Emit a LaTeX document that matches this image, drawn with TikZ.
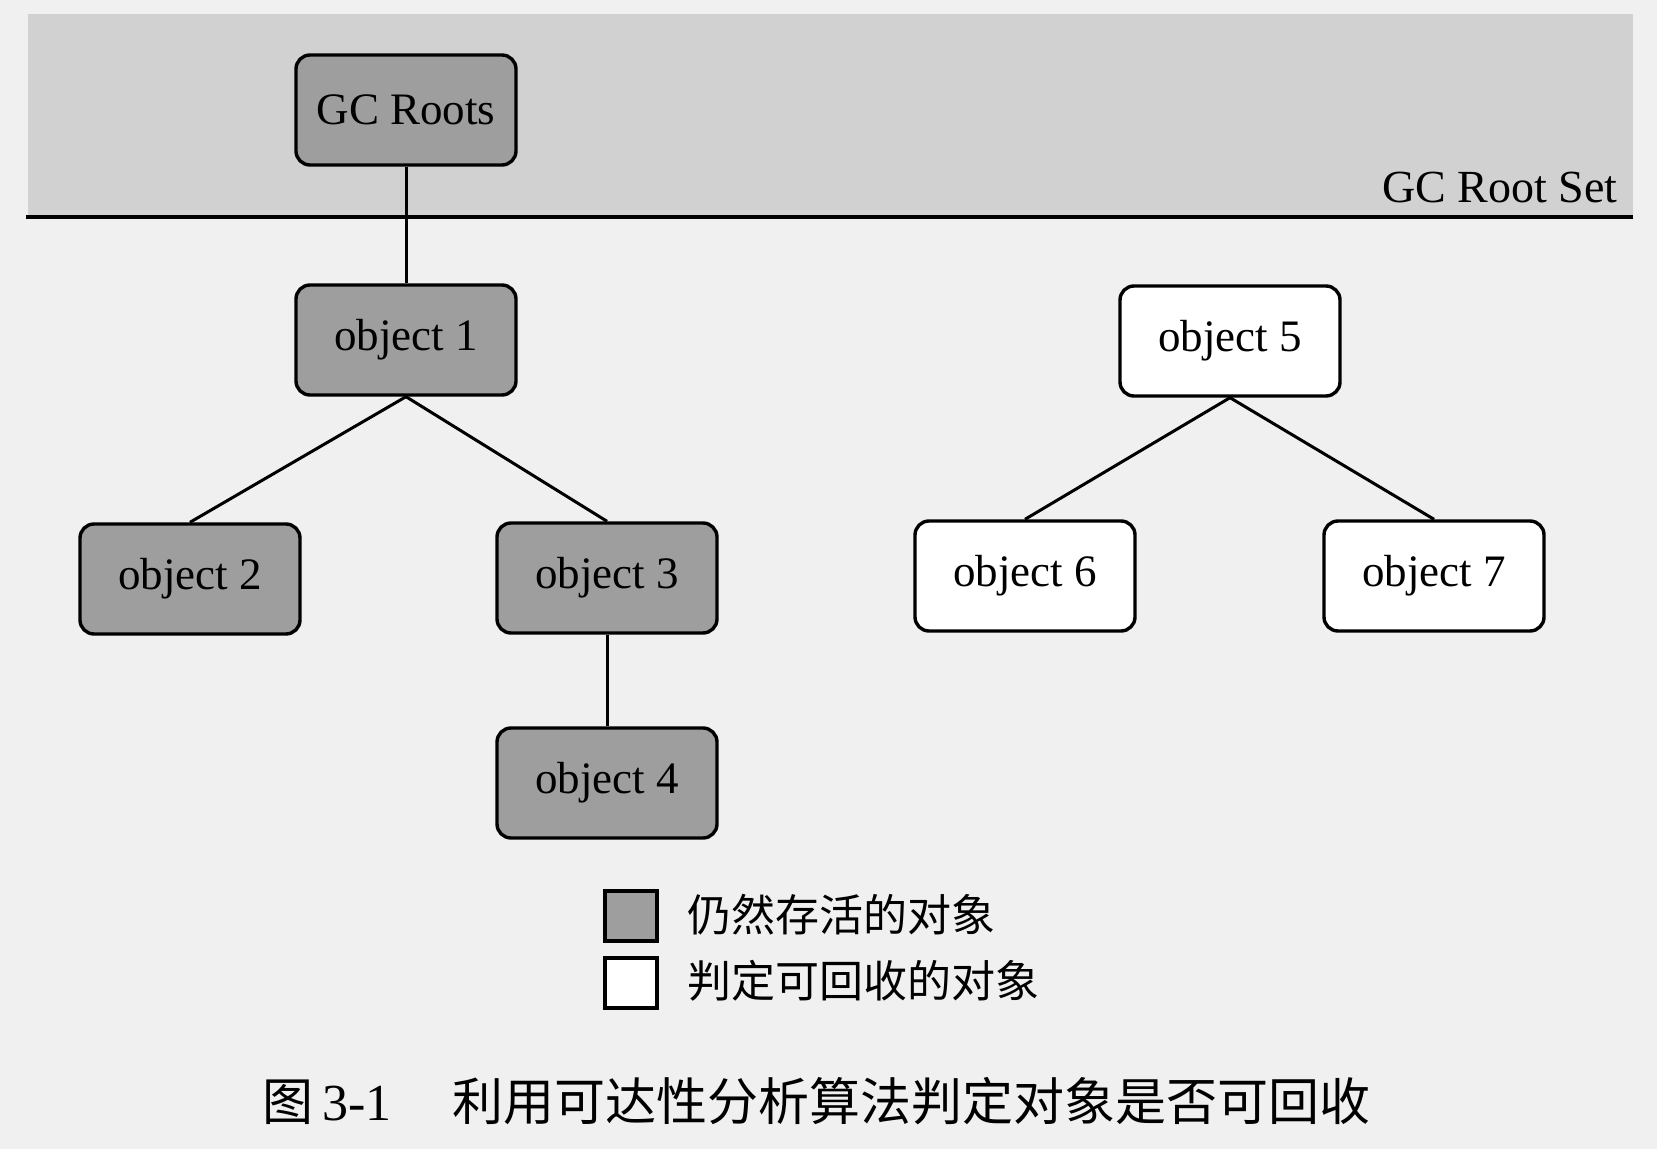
\documentclass[tikz,border=0pt]{standalone}
\usepackage{fontspec}
\setmainfont{Liberation Serif}
\newfontfamily\cjk{Noto Sans CJK SC}
\begin{document}
\begin{tikzpicture}[x=0.5pt,y=-0.5pt,
  obj/.style={draw=black, line width=1.7pt, rounded corners=7pt, minimum width=110pt, minimum height=55pt, inner sep=0pt, font=\fontsize{22.5}{27}\selectfont},
  live/.style={obj, fill=black!38},
  dead/.style={obj, fill=white},
  link/.style={draw=black, line width=1.5pt},
  legbox/.style={draw=black, line width=1.6pt, minimum width=26pt, minimum height=25pt, inner sep=0pt},
  legtext/.style={anchor=base west, inner sep=0pt, font=\cjk\fontsize{22}{26}\selectfont},
  captext/.style={anchor=base west, inner sep=0pt, font=\fontsize{26}{30}\selectfont}]
\useasboundingbox (0,0) rectangle (1657,1149);
\fill[black!6] (0,0) rectangle (1657,1149);
% root set band
\fill[black!18] (28,14) rectangle (1633,217);
\draw[line width=1.6pt] (26,217) -- (1633,217);
\node[anchor=base east, inner sep=0pt, font=\fontsize{23}{27}\selectfont] (rootset) at (1618,203) {GC Root Set};
% nodes
\node[live] (gc) at (406,110) {GC Roots};
\node[live] (o1) at (406,340) {object 1};
\node[live] (o2) at (190,579) {object 2};
\node[live] (o3) at (607,578) {object 3};
\node[live] (o4) at (607,783) {object 4};
\node[dead] (o5) at (1230,341) {object 5};
\node[dead] (o6) at (1025,576) {object 6};
\node[dead] (o7) at (1434,576) {object 7};
% links
\draw[link] (gc.south) -- (o1.north);
\draw[link] (o1.south) -- (o2.north);
\draw[link] (o1.south) -- (o3.north);
\draw[link] (o3.south) -- (o4.north);
\draw[link] (o5.south) -- (o6.north);
\draw[link] (o5.south) -- (o7.north);
% legend
\node[legbox, fill=black!38] (lg1) at (631,916) {};
\node[legbox, fill=white] (lg2) at (631,983) {};
\node[legtext] (lt1) at (687,931) {仍然存活的对象};
\node[legtext] (lt2) at (687,997) {判定可回收的对象};
% caption
\node[captext, font=\cjk\fontsize{25.5}{30}\selectfont] (c1) at (262,1120) {图};
\node[captext] (c2) at (322,1120) {3-1};
\node[captext, font=\cjk\fontsize{25.5}{30}\selectfont] (c3) at (452,1120) {利用可达性分析算法判定对象是否可回收};
\end{tikzpicture}
\end{document}
